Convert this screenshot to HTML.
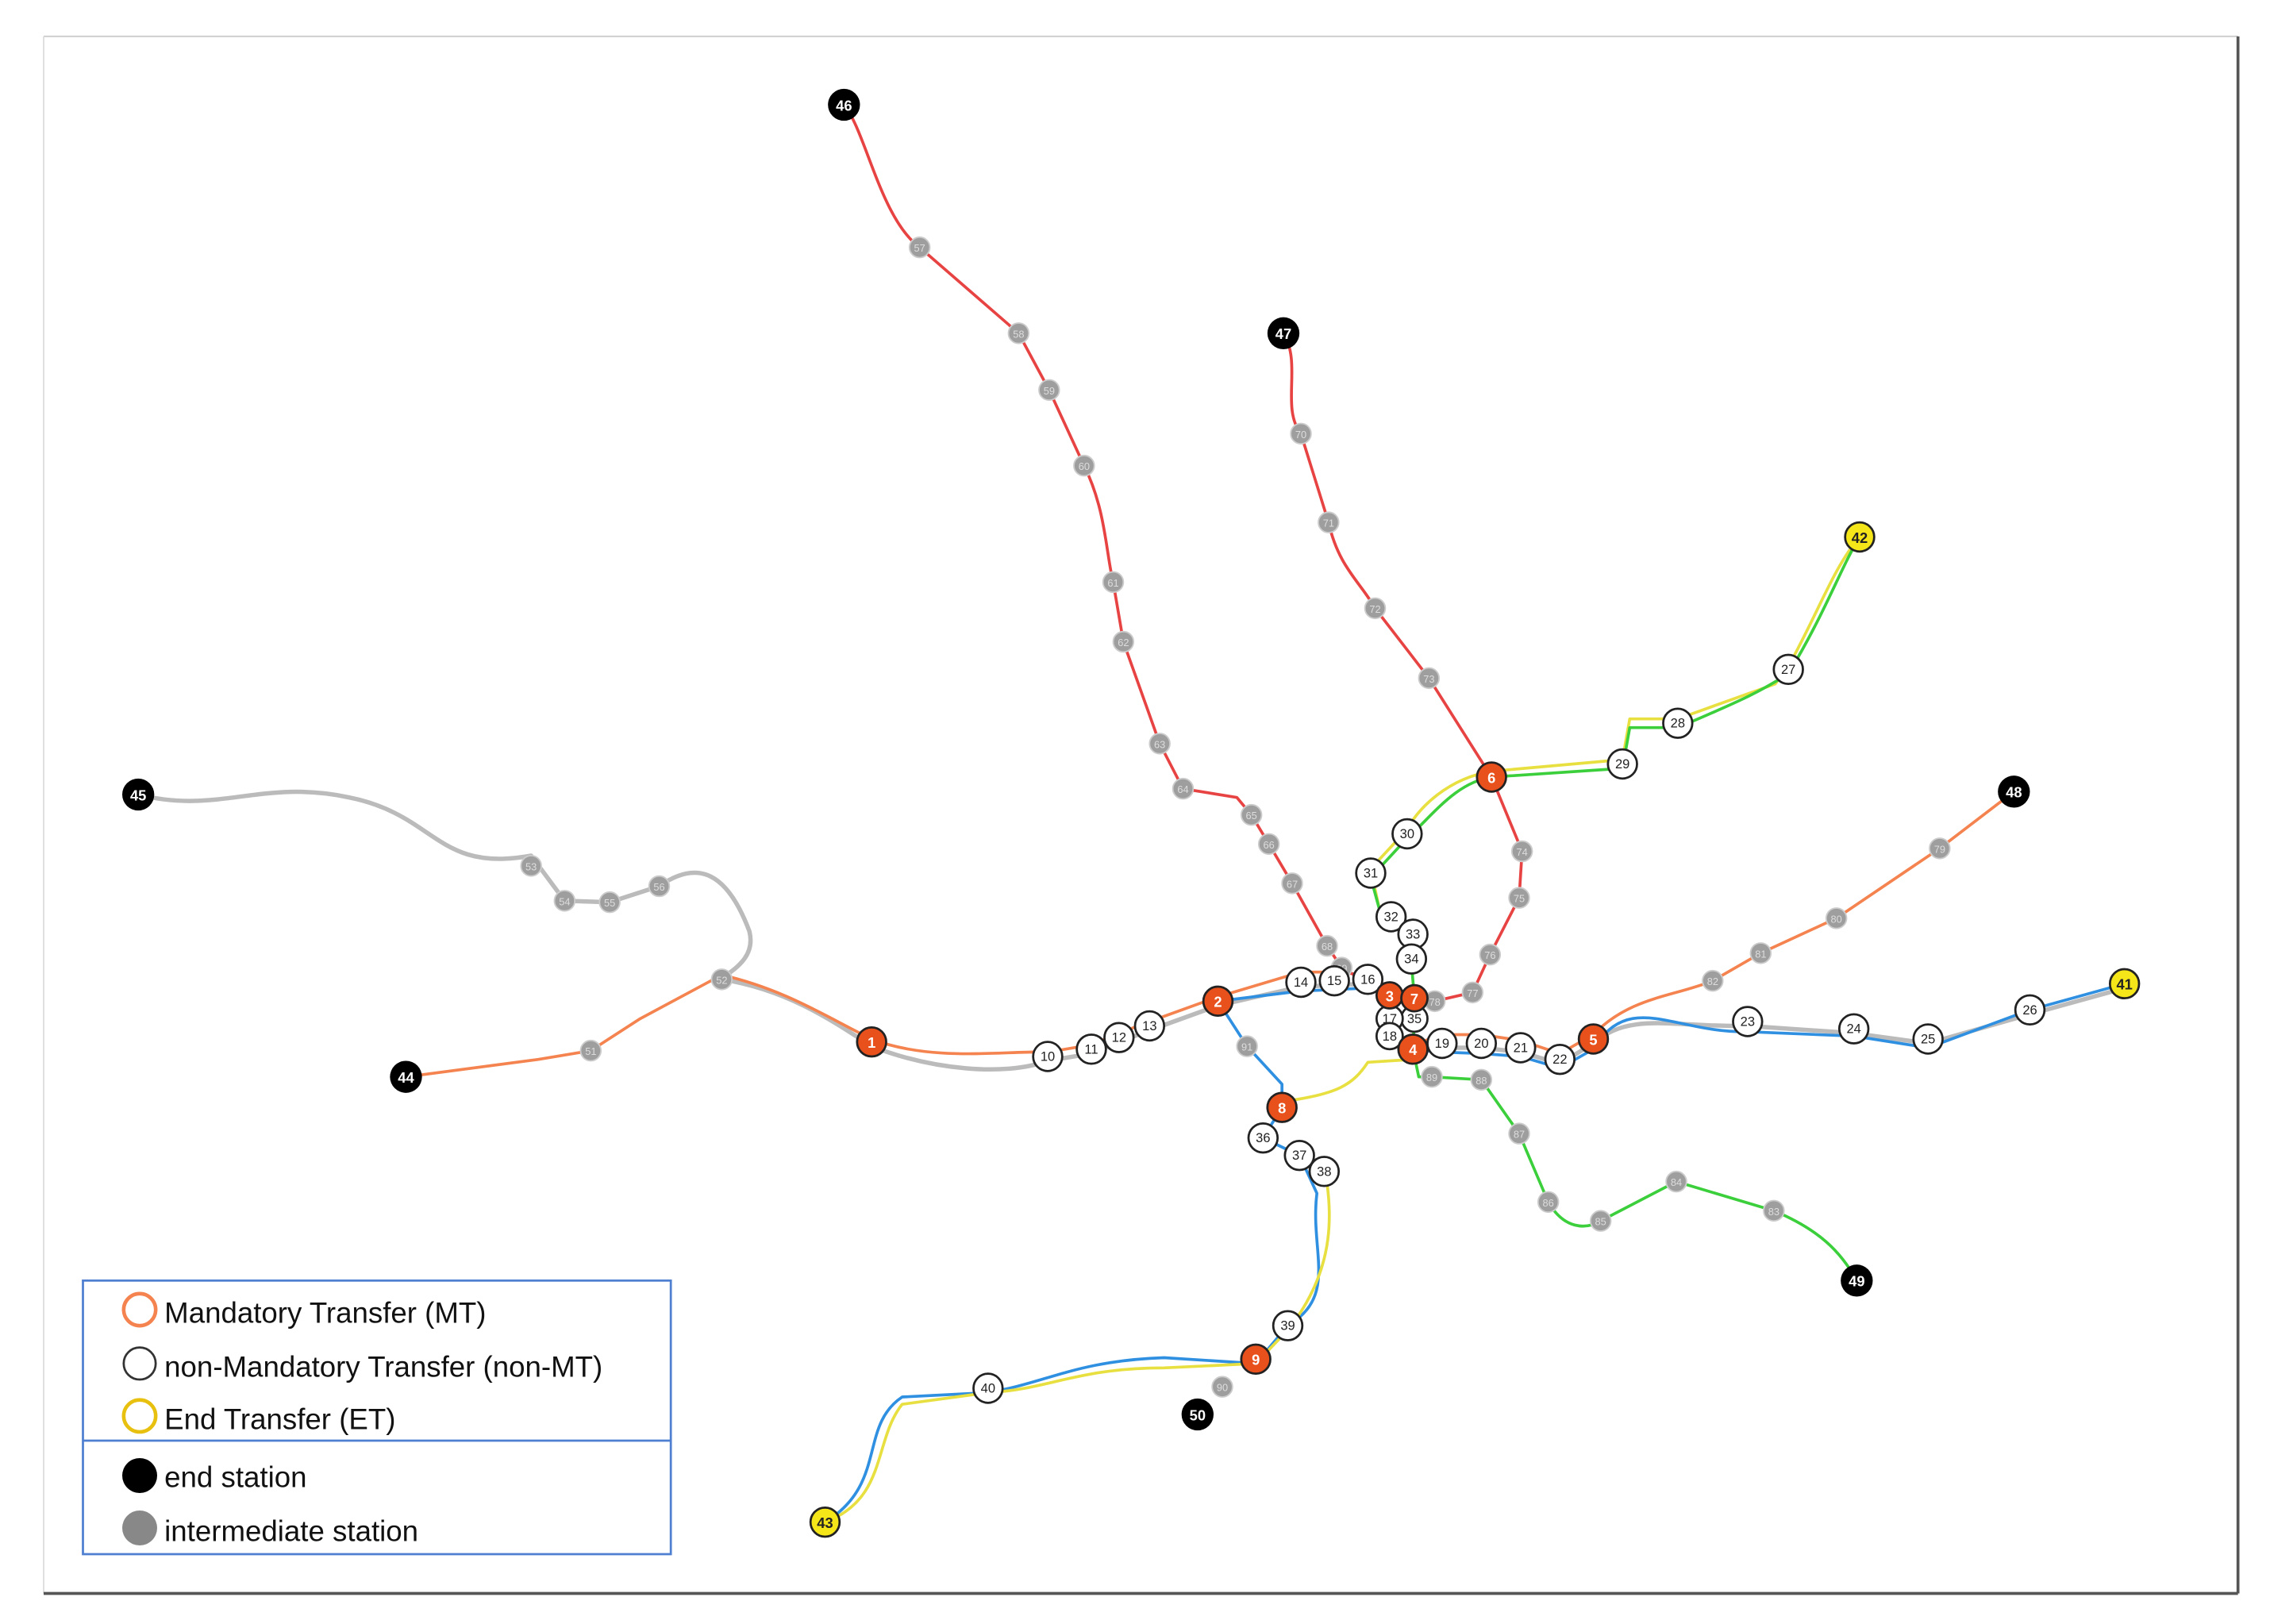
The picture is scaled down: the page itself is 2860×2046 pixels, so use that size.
<!DOCTYPE html>
<html><head><meta charset="utf-8"><style>
html,body{margin:0;padding:0;background:#fff;}
svg{display:block;}
text{font-family:"Liberation Sans",sans-serif;}
</style></head><body>
<svg width="2860" height="2046" viewBox="0 0 1560 1116" preserveAspectRatio="none" xmlns="http://www.w3.org/2000/svg">
<rect width="1560" height="1116" fill="#fff"/>
<line x1="30" y1="25" x2="1538" y2="25" stroke="#ccc" stroke-width="1"/>
<line x1="30" y1="25" x2="30" y2="1095" stroke="#ddd" stroke-width="1"/>
<line x1="1538" y1="25" x2="1538" y2="1095" stroke="#555" stroke-width="2"/>
<line x1="30" y1="1095" x2="1538" y2="1095" stroke="#555" stroke-width="2"/>
<g fill="none" stroke-width="2" stroke-linejoin="round" stroke-linecap="round">
<path stroke="#bbb" stroke-width="3" d="M95,546 C150,560 180,535 240,548 C300,560 300,600 365,588 L388,619 L419,620 L453,609 C480,590 500,600 515,640 C520,660 500,668 496,673 C540,680 570,700 599,719 C640,735 690,740 720,729 L750,724 L769,716 L790,708 L837,691 L894,678 L917,677 L940,676 L955,687 L955,715 L971,724 L991,720 L1018,720 L1045,723 L1072,731 L1095,717 C1120,695 1150,706 1201,705 L1274,710 L1325,717 L1395,697 L1460,679"/>
<path stroke="#f4834f" d="M279,740 L370,728 L406,722 L440,700 L496,670 C540,680 570,700 599,714 C640,730 690,722 720,723 L750,718 L769,710 L790,702 L837,685 L894,668 L917,668 L940,670 L955,681"/>
<path stroke="#f4834f" d="M971,718 L991,711 L1018,711 L1045,715 L1072,724 L1095,711 C1120,685 1150,685 1177,674 L1210,655 L1262,631 L1333,583 L1384,544"/>
<path stroke="#e84343" d="M580,72 C595,90 605,150 632,170 L700,229 L721,268 L745,320 C760,350 760,380 765,400 L772,441 L797,511 L813,542 L850,548 L860,560 L872,580 L888,607 L912,650 L922,665 L955,684"/>
<path stroke="#e84343" d="M882,229 C895,250 880,280 894,298 L913,359 C920,390 935,400 945,418 L982,466 L1025,534 L1046,585 L1044,617 L1024,656 L1012,682 L986,688 L972,690"/>
<path stroke="#2f8fe0" d="M837,688 L894,681 L917,680 L940,679 M837,688 L857,719 L881,745 L881,761 L868,782 L893,794 L905,820 C900,860 920,890 885,911 L863,937 L800,933 C740,935 720,950 679,957 L620,960 C590,980 610,1020 567,1046"/>
<path stroke="#2f8fe0" d="M971,721 L991,723 L1018,724 L1045,726 L1072,734 L1095,721 C1120,680 1150,710 1201,709 L1274,712 L1325,720 L1395,694 L1460,676"/>
<path stroke="#e8e040" d="M1278,369 C1260,390 1250,420 1229,458 L1220,470 L1153,494 L1120,494 L1115,522 L1025,530 C995,535 975,555 967,570 L942,597 L948,625 L956,630 M971,728 L940,730 C930,745 920,752 881,757 M910,800 C915,830 920,870 885,914 L863,937 L800,940 C740,940 720,955 679,957 L620,965 C600,990 610,1030 567,1046"/>
<path stroke="#3ccf3c" d="M1278,369 C1265,390 1255,420 1229,463 C1210,475 1200,480 1153,500 L1120,500 L1115,528 L1025,534 C1000,538 985,560 967,576 L942,603 L948,625 L956,633 L971,645 L970,662 L972,686 L972,700 L971,721 L975,740 L984,740 L1018,742 L1044,779 L1064,826 C1075,845 1090,845 1100,839 L1152,812 L1219,832 C1250,845 1265,860 1276,880"/>
</g>
<g font-size="10" text-anchor="middle" font-weight="bold">
<g fill="#9e9e9e" stroke="#ccc" stroke-width="1">
<circle cx="632" cy="170" r="7"/><circle cx="700" cy="229" r="7"/><circle cx="721" cy="268" r="7"/><circle cx="745" cy="320" r="7"/><circle cx="765" cy="400" r="7"/><circle cx="772" cy="441" r="7"/><circle cx="797" cy="511" r="7"/><circle cx="813" cy="542" r="7"/><circle cx="860" cy="560" r="7"/><circle cx="872" cy="580" r="7"/><circle cx="888" cy="607" r="7"/><circle cx="912" cy="650" r="7"/><circle cx="922" cy="665" r="7"/>
<circle cx="894" cy="298" r="7"/><circle cx="913" cy="359" r="7"/><circle cx="945" cy="418" r="7"/><circle cx="982" cy="466" r="7"/><circle cx="1046" cy="585" r="7"/><circle cx="1044" cy="617" r="7"/><circle cx="1024" cy="656" r="7"/><circle cx="1012" cy="682" r="7"/><circle cx="986" cy="688" r="7"/>
<circle cx="1333" cy="583" r="7"/><circle cx="1262" cy="631" r="7"/><circle cx="1210" cy="655" r="7"/><circle cx="1177" cy="674" r="7"/>
<circle cx="365" cy="595" r="7"/><circle cx="388" cy="619" r="7"/><circle cx="419" cy="620" r="7"/><circle cx="453" cy="609" r="7"/><circle cx="496" cy="673" r="7"/><circle cx="406" cy="722" r="7"/>
<circle cx="857" cy="719" r="7"/><circle cx="840" cy="953" r="7"/>
<circle cx="984" cy="740" r="7"/><circle cx="1018" cy="742" r="7"/><circle cx="1044" cy="779" r="7"/><circle cx="1064" cy="826" r="7"/><circle cx="1100" cy="839" r="7"/><circle cx="1152" cy="812" r="7"/><circle cx="1219" cy="832" r="7"/>
</g>
<g fill="#ddd" font-size="7" font-weight="normal">
<text x="632" y="173">57</text><text x="700" y="232">58</text><text x="721" y="271">59</text><text x="745" y="323">60</text><text x="765" y="403">61</text><text x="772" y="444">62</text><text x="797" y="514">63</text><text x="813" y="545">64</text><text x="860" y="563">65</text><text x="872" y="583">66</text><text x="888" y="610">67</text><text x="912" y="653">68</text><text x="922" y="668">69</text>
<text x="894" y="301">70</text><text x="913" y="362">71</text><text x="945" y="421">72</text><text x="982" y="469">73</text><text x="1046" y="588">74</text><text x="1044" y="620">75</text><text x="1024" y="659">76</text><text x="1012" y="685">77</text><text x="986" y="691">78</text>
<text x="1333" y="586">79</text><text x="1262" y="634">80</text><text x="1210" y="658">81</text><text x="1177" y="677">82</text>
<text x="365" y="598">53</text><text x="388" y="622">54</text><text x="419" y="623">55</text><text x="453" y="612">56</text><text x="496" y="676">52</text><text x="406" y="725">51</text>
<text x="857" y="722">91</text><text x="840" y="956">90</text>
<text x="984" y="743">89</text><text x="1018" y="745">88</text><text x="1044" y="782">87</text><text x="1064" y="829">86</text><text x="1100" y="842">85</text><text x="1152" y="815">84</text><text x="1219" y="835">83</text>
</g>
<g fill="#fff" stroke="#222" stroke-width="1.5">
<circle cx="1229" cy="460" r="10"/><circle cx="1153" cy="497" r="10"/><circle cx="1115" cy="525" r="10"/><circle cx="967" cy="573" r="10"/><circle cx="942" cy="600" r="10"/><circle cx="956" cy="630" r="10"/><circle cx="971" cy="642" r="10"/><circle cx="970" cy="659" r="10"/>
<circle cx="972" cy="700" r="9"/><circle cx="955" cy="700" r="9"/><circle cx="955" cy="712" r="9"/>
<circle cx="991" cy="717" r="10"/><circle cx="1018" cy="717" r="10"/><circle cx="1045" cy="720" r="10"/><circle cx="1072" cy="728" r="10"/>
<circle cx="1201" cy="702" r="10"/><circle cx="1274" cy="707" r="10"/><circle cx="1325" cy="714" r="10"/><circle cx="1395" cy="694" r="10"/>
<circle cx="720" cy="726" r="10"/><circle cx="750" cy="721" r="10"/><circle cx="769" cy="713" r="10"/><circle cx="790" cy="705" r="10"/>
<circle cx="894" cy="675" r="10"/><circle cx="917" cy="674" r="10"/><circle cx="940" cy="673" r="10"/>
<circle cx="868" cy="782" r="10"/><circle cx="893" cy="794" r="10"/><circle cx="910" cy="805" r="10"/><circle cx="885" cy="911" r="10"/><circle cx="679" cy="954" r="10"/>
</g>
<g fill="#222" font-size="9" font-weight="normal">
<text x="1229" y="463">27</text><text x="1153" y="500">28</text><text x="1115" y="528">29</text><text x="967" y="576">30</text><text x="942" y="603">31</text><text x="956" y="633">32</text><text x="971" y="645">33</text><text x="970" y="662">34</text>
<text x="972" y="703">35</text><text x="955" y="703">17</text><text x="955" y="715">18</text>
<text x="991" y="720">19</text><text x="1018" y="720">20</text><text x="1045" y="723">21</text><text x="1072" y="731">22</text>
<text x="1201" y="705">23</text><text x="1274" y="710">24</text><text x="1325" y="717">25</text><text x="1395" y="697">26</text>
<text x="720" y="729">10</text><text x="750" y="724">11</text><text x="769" y="716">12</text><text x="790" y="708">13</text>
<text x="894" y="678">14</text><text x="917" y="677">15</text><text x="940" y="676">16</text>
<text x="868" y="785">36</text><text x="893" y="797">37</text><text x="910" y="808">38</text><text x="885" y="914">39</text><text x="679" y="957">40</text>
</g>
<g fill="#e8501c" stroke="#222" stroke-width="1.5">
<circle cx="1025" cy="534" r="10"/><circle cx="955" cy="684" r="9"/><circle cx="972" cy="686" r="9"/><circle cx="971" cy="721" r="10"/><circle cx="1095" cy="714" r="10"/><circle cx="599" cy="716" r="10"/><circle cx="837" cy="688" r="10"/><circle cx="881" cy="761" r="10"/><circle cx="863" cy="934" r="10"/>
</g>
<g fill="#fff">
<text x="1025" y="538">6</text><text x="955" y="688">3</text><text x="972" y="690">7</text><text x="971" y="725">4</text><text x="1095" y="718">5</text><text x="599" y="720">1</text><text x="837" y="692">2</text><text x="881" y="765">8</text><text x="863" y="938">9</text>
</g>
<g fill="#f5e61a" stroke="#222" stroke-width="1.5">
<circle cx="1278" cy="369" r="10"/><circle cx="1460" cy="676" r="10"/><circle cx="567" cy="1046" r="10"/>
</g>
<g fill="#222"><text x="1278" y="373">42</text><text x="1460" y="680">41</text><text x="567" y="1050">43</text></g>
<g fill="#000">
<circle cx="580" cy="72" r="11"/><circle cx="882" cy="229" r="11"/><circle cx="1384" cy="544" r="11"/><circle cx="95" cy="546" r="11"/><circle cx="279" cy="740" r="11"/><circle cx="823" cy="972" r="11"/><circle cx="1276" cy="880" r="11"/>
</g>
<g fill="#fff"><text x="580" y="76">46</text><text x="882" y="233">47</text><text x="1384" y="548">48</text><text x="95" y="550">45</text><text x="279" y="744">44</text><text x="823" y="976">50</text><text x="1276" y="884">49</text></g>
</g>
<rect x="57" y="880" width="404" height="188" fill="#fff" stroke="#4f7fd0" stroke-width="1.5"/>
<line x1="57" y1="990" x2="461" y2="990" stroke="#4f7fd0" stroke-width="1.5"/>
<circle cx="96" cy="900" r="11" fill="#fff" stroke="#f4834f" stroke-width="2.5"/>
<circle cx="96" cy="937" r="11" fill="#fff" stroke="#333" stroke-width="1.5"/>
<circle cx="96" cy="973" r="11" fill="#fff" stroke="#e8c010" stroke-width="2.5"/>
<circle cx="96" cy="1014" r="12" fill="#000"/>
<circle cx="96" cy="1050" r="12" fill="#888"/>
<g font-size="20" fill="#111">
<text x="113" y="909">Mandatory Transfer (MT)</text>
<text x="113" y="946">non-Mandatory Transfer (non-MT)</text>
<text x="113" y="982">End Transfer (ET)</text>
<text x="113" y="1022">end station</text>
<text x="113" y="1059">intermediate station</text>
</g>
</svg>
</body></html>
